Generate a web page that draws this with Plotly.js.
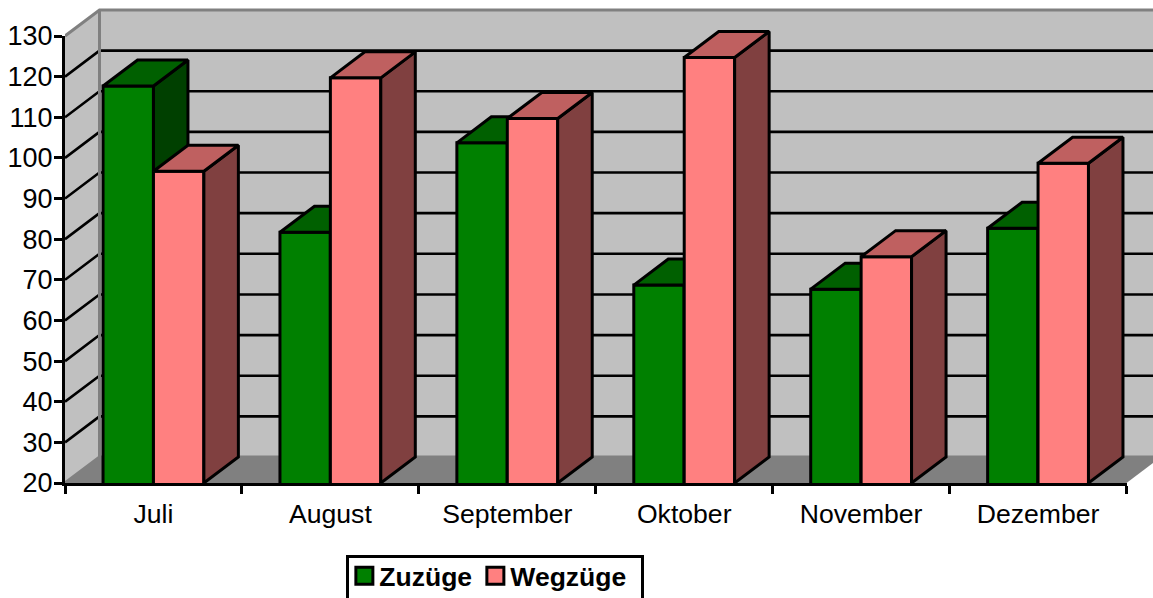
<!DOCTYPE html>
<html><head><meta charset="utf-8">
<script src="https://cdn.plot.ly/plotly-3.0.1.min.js"></script>
<style>html,body{margin:0;padding:0;background:#fff;overflow:hidden}#c{width:1153px;height:598px}</style>
</head><body><div id="c"></div>
<script>
const months = ["Juli","August","September","Oktober","November","Dezember"];
const zuzuege = [117.7,81.7,103.7,68.7,67.7,82.7];
const wegzuege = [96.7,119.7,109.7,124.7,75.7,98.7];
const yTicks = [20,30,40,50,60,70,80,90,100,110,120,130];
const xBounds = [0,1,2,3,4,5,6];
const centers = [0.5,1.5,2.5,3.5,4.5,5.5];

const depthX = 0.195, depthY = 6.4, barW = 0.285;
const yMin = 20, yMax = 130, xMax = 6;
const plotW = 1088.5, plotH = 483, axisW = 1062, axisH = 447;
const xTop = xMax*plotW/axisW, yTop = yMin+(yMax-yMin)*plotH/axisH;
const FONT = '"Liberation Sans", Arial, sans-serif';

function poly(pts){ const x=[],y=[]; pts.forEach(p=>{x.push(...p.map(q=>q[0]),null); y.push(...p.map(q=>q[1]),null);}); return {x,y}; }
function faceTrace(pts, color, lineColor, lw, xa, ya){
  const d = poly(pts);
  return {type:'scatter',mode:'lines',x:d.x,y:d.y,xaxis:xa,yaxis:ya,fill:'toself',fillcolor:color,
    line:{color:lineColor,width:lw,shape:'linear'},showlegend:false,hoverinfo:'skip'};
}
function lineTrace(pts,color,lw){
  const d = poly(pts);
  return {type:'scatter',mode:'lines',x:d.x,y:d.y,xaxis:'x',yaxis:'y',line:{color,width:lw},showlegend:false,hoverinfo:'skip'};
}
function barSet(name, vals, off, front, top, side, xa, ya){
  const tops=[], sides=[];
  vals.forEach((v,i)=>{
    const l=centers[i]+off, r=l+barW;
    tops.push([[l,v],[r,v],[r+depthX,v+depthY],[l+depthX,v+depthY],[l,v]]);
    sides.push([[r,yMin],[r+depthX,yMin+depthY],[r+depthX,v+depthY],[r,v],[r,yMin]]);
  });
  return [
    {type:'bar',name,x:centers,y:vals,width:barW,offset:off,xaxis:xa,yaxis:ya,
      marker:{color:front,line:{color:'#000',width:3}},hoverinfo:'skip'},
    faceTrace(sides,side,'#000',3,xa,ya),
    faceTrace(tops,top,'#000',3,xa,ya)
  ];
}
const walls = [
  faceTrace([[[depthX,yMin+depthY],[xMax+0.4,yMin+depthY],[xMax+0.4,yMax+depthY],[depthX,yMax+depthY],[depthX,yMin+depthY]]],'#C0C0C0','#C0C0C0',0,'x','y'),
  faceTrace([[[0,yMin],[depthX,yMin+depthY],[depthX,yMax+depthY],[0,yMax],[0,yMin]]],'#C0C0C0','#C0C0C0',0,'x','y'),
  faceTrace([[[0,yMin],[xMax,yMin],[xMax+depthX,yMin+depthY],[depthX,yMin+depthY],[0,yMin]]],'#808080','#808080',0,'x','y'),
];
const grid = yTicks.slice(1,-1).map(v=>[[0,v],[depthX,v+depthY],[xMax+0.4,v+depthY]]);
const edges = [[[0,yMax],[depthX,yMax+depthY],[xMax+0.4,yMax+depthY]],[[depthX,yMin+depthY],[depthX,yMax+depthY]],[[0,yMin],[depthX,yMin+depthY],[xMax+0.4,yMin+depthY]]];

const data = [...walls, lineTrace(grid,'#000',2.6), lineTrace(edges,'#808080',3),
  ...barSet('Zuzüge',zuzuege,-barW,'#008000','#006000','#004000','x2','y2'),
  ...barSet('Wegzüge',wegzuege,0,'#FF8080','#BF6060','#804040','x3','y3'),
  {type:'scatter',mode:'none',x:centers,y:zuzuege,xaxis:'x4',yaxis:'y4',showlegend:false,hoverinfo:'skip'}];

const hiddenX = {visible:false,fixedrange:true,range:[0,xTop],domain:[0,1]};
const hiddenY = {visible:false,fixedrange:true,range:[yMin,yTop],domain:[0,1]};
const layout = {
  width:1153,height:598,paper_bgcolor:'#fff',plot_bgcolor:'rgba(0,0,0,0)',showlegend:true,
  margin:{l:64.5,r:0,t:0,b:115,pad:0,autoexpand:false},
  font:{family:FONT,size:26,color:'#000'},
  hovermode:false,
  xaxis:{...hiddenX},yaxis:{...hiddenY},
  xaxis2:{...hiddenX,overlaying:'x'},yaxis2:{...hiddenY,overlaying:'y'},
  xaxis3:{...hiddenX,overlaying:'x'},yaxis3:{...hiddenY,overlaying:'y'},
  xaxis4:{anchor:'y4',domain:[0,axisW/plotW],range:[0,xMax],tickmode:'array',tickvals:centers,ticktext:months,ticks:'',ticklabelstandoff:5,
    showgrid:false,zeroline:false,showline:true,linecolor:'#000',linewidth:3,
    minor:{tickmode:'array',tickvals:xBounds,ticks:'outside',ticklen:8,tickwidth:3,tickcolor:'#000',showgrid:false},
    tickfont:{family:FONT,size:26.6,color:'#000'}},
  yaxis4:{anchor:'x4',domain:[0,axisH/plotH],range:[yMin,yMax],tickmode:'array',tickvals:yTicks,ticks:'outside',ticklen:8,tickwidth:3,tickcolor:'#000',ticklabelstandoff:-4,
    showgrid:false,zeroline:false,showline:true,linecolor:'#000',linewidth:3,tickfont:{family:FONT,size:27,color:'#000'}},
  legend:{orientation:'h',x:(346-64.5)/plotW,xanchor:'left',y:(483-555)/plotH,yanchor:'top',bgcolor:'#fff',bordercolor:'#000',borderwidth:3,
    font:{family:FONT,size:26.5,color:'#000',weight:700}}
};
Plotly.newPlot('c',data,layout,{displayModeBar:false,staticPlot:true}).then(gd=>{
  // tighten the legend entries: larger swatches sitting closer to their labels, as in the source chart
  const leg = gd.querySelector('.legend');
  leg.querySelector('rect.bg').setAttribute('width', 295);
  const starts = [0, 131];
  leg.querySelectorAll('.traces').forEach((t,i)=>{
    const m = /translate\(([^,]+),\s*([^)]+)\)/.exec(t.getAttribute('transform')||'');
    const y = (m ? parseFloat(m[2]) : 0) - 6;
    t.setAttribute('transform',`translate(${starts[i]},${y})`);
    t.querySelectorAll('.legendpoints path').forEach(p=>{
      p.setAttribute('d','M8.5,8.5H-8.5V-8.5H8.5Z');
      p.setAttribute('transform','translate(18,0)');
      p.style.strokeWidth='3px';
    });
    const tx = t.querySelector('.legendtext');
    if(tx) tx.setAttribute('x',33);
  });
});
</script></body></html>
